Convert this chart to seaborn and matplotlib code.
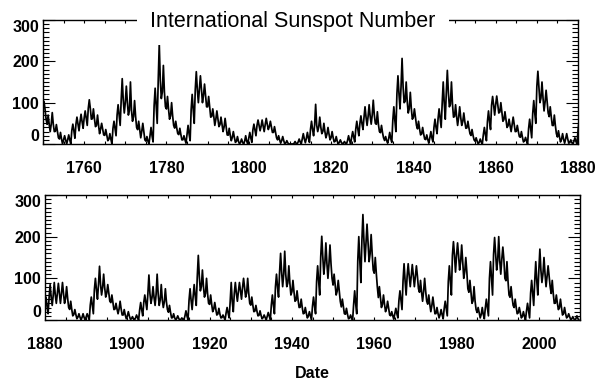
import numpy as np
import pandas as pd
import seaborn as sns
import matplotlib
matplotlib.use("Agg")
import matplotlib.pyplot as plt
from matplotlib.ticker import MultipleLocator

# yearly sunspot number: annual mean plus lowest / highest monthly value,
# read off the chart (1749 - 2009)
years = list(range(1749, 2010))
ssn_mean = [
    80.9, 83.4, 47.7, 47.8, 30.7, 12.2, 9.6, 10.2, 32.4, 47.6, 54.0,
    62.9, 85.9, 61.2, 45.1, 36.4, 20.9, 11.4, 37.8, 69.8, 106.1,
    100.8, 81.6, 66.5, 34.8, 30.6, 7.0, 19.8, 92.5, 154.4, 125.9,
    84.8, 68.1, 38.5, 22.8, 10.2, 24.1, 82.9, 132.0, 130.9, 118.1,
    89.9, 66.6, 60.0, 46.9, 41.0, 21.3, 16.0, 6.4, 4.1, 6.8,
    14.5, 34.0, 45.0, 43.1, 47.5, 42.2, 28.1, 10.1, 8.1, 2.5,
    0.0, 1.4, 5.0, 12.2, 13.9, 35.4, 45.8, 41.1, 30.1, 23.9,
    15.6, 6.6, 4.0, 1.8, 8.5, 16.6, 36.3, 49.6, 64.2, 67.0,
    70.9, 47.8, 27.5, 8.5, 13.2, 56.9, 121.5, 138.3, 103.2, 85.7,
    64.6, 36.7, 24.2, 10.7, 15.0, 40.1, 61.5, 98.5, 124.7, 96.3,
    66.6, 64.5, 54.1, 39.0, 20.6, 6.7, 4.3, 22.7, 54.8, 93.8,
    95.8, 77.2, 59.1, 44.0, 47.0, 30.5, 16.3, 7.3, 37.6, 74.0,
    139.0, 111.2, 101.6, 66.2, 44.7, 17.0, 11.3, 12.4, 3.4, 6.0,
    32.3, 54.3, 59.7, 63.7, 63.5, 52.2, 25.4, 13.1, 6.8, 6.3,
    7.1, 35.6, 73.0, 85.1, 78.0, 64.0, 41.8, 26.2, 26.7, 12.1,
    9.5, 2.7, 5.0, 24.4, 42.0, 63.5, 53.8, 62.0, 48.5, 43.9,
    18.6, 5.7, 3.6, 1.4, 9.6, 47.4, 57.1, 103.9, 80.6, 63.6,
    37.6, 26.1, 14.2, 5.8, 16.7, 44.3, 63.9, 69.0, 77.8, 64.9,
    35.7, 21.2, 11.1, 5.7, 8.7, 36.1, 79.7, 114.4, 109.6, 88.8,
    67.8, 47.5, 30.6, 16.3, 9.6, 33.2, 92.6, 151.6, 136.3, 134.7,
    83.9, 69.4, 31.5, 13.9, 4.4, 38.0, 141.7, 190.2, 184.8, 159.0,
    112.3, 53.9, 37.6, 27.9, 10.2, 15.1, 47.0, 93.8, 105.9, 105.5,
    104.5, 66.6, 68.9, 38.0, 34.5, 15.5, 12.6, 27.5, 92.5, 155.4,
    154.6, 140.4, 115.9, 66.6, 45.9, 17.9, 13.4, 29.4, 100.2, 157.6,
    142.6, 145.7, 94.3, 54.6, 29.9, 17.5, 8.6, 21.5, 64.3, 93.3,
    119.6, 111.0, 104.0, 63.7, 40.4, 29.8, 15.2, 7.5, 2.9, 3.1,
]
ssn_low = [
    58, 60, 30, 30, 15, 0, 0, 0, 14, 32, 38,
    45, 60, 42, 25, 22, 8, 0, 20, 45, 75,
    70, 55, 40, 15, 10, 0, 5, 50, 110, 90,
    60, 45, 25, 10, 2, 8, 50, 100, 100, 90,
    65, 45, 42, 30, 22, 8, 4, 0, 0, 0,
    4, 20, 32, 30, 35, 28, 15, 2, 0, 0,
    0, 0, 0, 3, 4, 20, 30, 25, 15, 10,
    5, 0, 0, 0, 0, 5, 20, 35, 45, 48,
    50, 30, 15, 2, 4, 30, 85, 100, 75, 60,
    45, 22, 12, 2, 5, 25, 40, 60, 90, 65,
    45, 45, 38, 25, 10, 0, 0, 8, 35, 70,
    75, 55, 40, 30, 30, 18, 5, 0, 15, 50,
    100, 80, 75, 45, 25, 5, 2, 2, 0, 0,
    15, 35, 40, 40, 40, 30, 10, 3, 0, 0,
    0, 15, 50, 60, 55, 45, 25, 15, 12, 3,
    2, 0, 0, 10, 25, 40, 35, 35, 30, 25,
    5, 0, 0, 0, 0, 25, 35, 70, 55, 40,
    20, 12, 5, 0, 5, 20, 45, 50, 55, 40,
    20, 10, 3, 0, 0, 15, 55, 80, 80, 60,
    45, 30, 15, 5, 0, 15, 60, 110, 100, 100,
    60, 45, 15, 3, 0, 15, 90, 140, 140, 120,
    80, 30, 20, 12, 2, 5, 25, 60, 80, 80,
    75, 45, 45, 20, 15, 5, 3, 10, 60, 115,
    120, 100, 75, 40, 25, 5, 3, 10, 60, 120,
    110, 100, 60, 35, 15, 5, 0, 5, 35, 60,
    90, 80, 80, 40, 25, 12, 5, 1, 0, 0,
]
ssn_high = [
    108, 103, 70, 76, 47, 28, 20, 22, 48, 65, 72,
    80, 107, 85, 70, 50, 35, 25, 55, 95, 158,
    140, 150, 105, 55, 50, 18, 40, 135, 242, 190,
    115, 100, 55, 38, 20, 45, 120, 175, 165, 145,
    115, 85, 80, 65, 62, 38, 30, 18, 12, 20,
    28, 48, 58, 58, 62, 55, 42, 20, 18, 8,
    0, 6, 12, 25, 28, 55, 96, 65, 50, 40,
    30, 18, 10, 6, 20, 30, 55, 68, 90, 95,
    106, 78, 45, 18, 28, 90, 165, 207, 150, 125,
    85, 55, 40, 22, 30, 60, 85, 150, 178, 150,
    95, 90, 75, 55, 35, 15, 12, 40, 80, 115,
    116, 100, 78, 60, 65, 45, 30, 16, 60, 105,
    176, 150, 130, 90, 70, 32, 25, 25, 10, 15,
    55, 85, 90, 88, 90, 80, 45, 25, 15, 15,
    15, 55, 100, 129, 110, 85, 60, 40, 45, 25,
    20, 8, 12, 42, 60, 108, 80, 110, 85, 75,
    35, 15, 10, 5, 22, 75, 85, 155, 120, 100,
    60, 42, 28, 12, 30, 90, 90, 90, 100, 100,
    55, 35, 22, 12, 18, 60, 110, 160, 165, 130,
    95, 70, 50, 30, 20, 55, 130, 201, 185, 180,
    110, 95, 50, 28, 12, 70, 200, 253, 230, 205,
    150, 80, 60, 45, 20, 28, 70, 135, 135, 133,
    130, 95, 100, 60, 55, 30, 25, 45, 130, 188,
    185, 180, 150, 95, 80, 30, 30, 50, 140, 198,
    200, 175, 140, 80, 50, 30, 20, 40, 95, 140,
    170, 150, 130, 95, 60, 50, 30, 15, 8, 10,
]

# where inside each year each sample is placed (mean, high, mean, low)
sample_offset = {"mean_a": 0.0, "high": 0.25, "mean_b": 0.5, "low": 0.75}

wide = pd.DataFrame({"year": years, "mean_a": ssn_mean, "high": ssn_high,
                     "mean_b": ssn_mean, "low": ssn_low})
df = wide.melt(id_vars="year", var_name="kind", value_name="ssn")
df["date"] = df["year"] + df["kind"].map(sample_offset)
df = df.sort_values("date").reset_index(drop=True)

sns.set_style("ticks")
plt.rcParams["font.family"] = ["Liberation Sans", "DejaVu Sans"]
plt.rcParams["text.color"] = "black"
plt.rcParams["axes.labelcolor"] = "black"

fig = plt.figure(figsize=(6.16, 3.85), dpi=100)
ax_top = fig.add_axes([43 / 616, 1 - 144 / 385, 535 / 616, 124 / 385])
ax_bot = fig.add_axes([45 / 616, 1 - 320 / 385, 535 / 616, 125 / 385])

for ax, xlim in [(ax_top, (1750, 1880)), (ax_bot, (1880, 2010))]:
    sns.lineplot(data=df, x="date", y="ssn", estimator=None, sort=False,
                 color="black", lw=1.25, ax=ax)
    ax.set_xlim(*xlim)
    ax.set_ylim(0, 300)
    ax.xaxis.set_major_locator(MultipleLocator(20))
    ax.xaxis.set_minor_locator(MultipleLocator(5))
    ax.set_yticks([0, 100, 200, 300])
    ax.yaxis.set_minor_locator(MultipleLocator(10))
    ax.set_xlabel("")
    ax.set_ylabel("")
    for side in ["top", "bottom", "left", "right"]:
        ax.spines[side].set_linewidth(1.0)
        ax.spines[side].set_color("black")
    ax.tick_params(axis="x", which="both", direction="in", top=True, bottom=True,
                   length=2.5, width=0.8, pad=12, labelsize=11.5, colors="black")
    ax.tick_params(axis="y", which="major", direction="in", left=True, right=True,
                   length=8.5, width=0.8, pad=3, labelsize=11.5, colors="black")
    ax.tick_params(axis="y", which="minor", direction="in", left=True, right=True,
                   length=4.3, width=0.8, colors="black")
    for lab in ax.get_xticklabels() + ax.get_yticklabels():
        lab.set_fontweight("bold")
    ylabs = ax.get_yticklabels()
    ylabs[0].set_va("bottom")
    ylabs[-1].set_va("top")

ax_bot.set_xlabel("Date", fontsize=11.5, fontweight="bold", labelpad=10)

fig.text(293 / 616, 1 - 27 / 385, "International Sunspot Number",
         ha="center", va="baseline", fontsize=15.5, color="black",
         bbox=dict(boxstyle="square,pad=0.6", fc="white", ec="none"))

fig.savefig("out.png", dpi=100)
